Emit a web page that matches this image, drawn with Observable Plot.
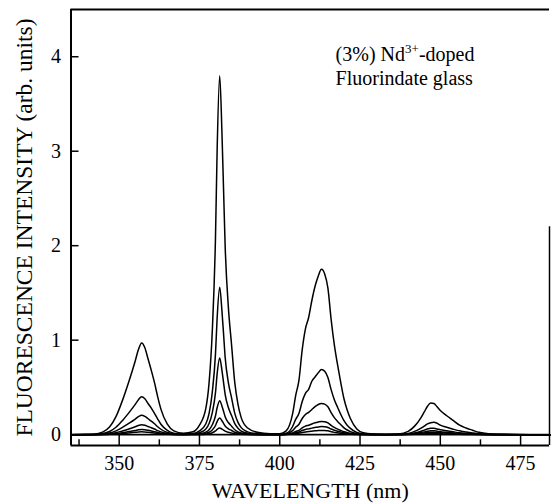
<!DOCTYPE html>
<html>
<head>
<meta charset="utf-8">
<script src="https://cdn.jsdelivr.net/npm/d3@7"></script>
<script src="https://cdn.jsdelivr.net/npm/@observablehq/plot@0.6"></script>
<style>
  html, body { margin: 0; padding: 0; background: #fff; }
</style>
</head>
<body>
<div id="chart"></div>
<script>
// Wavelength grid (nm)
const wavelengths = [335,342,345,347,349,351,353,355,356,357,358,359,360,361,362,363,365,367,370,373,375,377,378,379,380,380.5,381.3,382,382.5,383,384,385,386,387,388,390,393,397,400,402,404,405,406,407,408,409,410,411,412,413,414,415,416,417,418,419,420,421,422,424,426,429,433,437,440,442,444,445,446,447,448,449,450,452,454,456,458,460,462,465,470,478,485];

// Fluorescence intensity series (arb. units), highest to lowest
const seriesA = [0,0.005,0.03,0.08,0.19,0.36,0.56,0.78,0.90,0.97,0.92,0.80,0.68,0.55,0.40,0.27,0.11,0.04,0.015,0.03,0.10,0.28,0.55,1.10,2.10,3.00,3.80,3.20,2.60,2.00,1.35,0.95,0.55,0.32,0.18,0.07,0.025,0.01,0.01,0.04,0.22,0.42,0.58,0.90,1.12,1.24,1.42,1.57,1.68,1.75,1.70,1.55,1.22,0.95,0.74,0.55,0.38,0.26,0.17,0.06,0.02,0.008,0.005,0.008,0.035,0.09,0.18,0.24,0.30,0.335,0.33,0.295,0.255,0.20,0.15,0.10,0.07,0.047,0.025,0.01,0.003,0,0];
const seriesB = [0,0.002,0.012,0.033,0.078,0.148,0.23,0.32,0.37,0.40,0.38,0.33,0.28,0.225,0.165,0.11,0.045,0.016,0.006,0.012,0.04,0.115,0.225,0.45,0.86,1.23,1.56,1.31,1.07,0.82,0.55,0.39,0.225,0.13,0.074,0.029,0.01,0.004,0.004,0.014,0.086,0.164,0.226,0.35,0.437,0.48,0.565,0.61,0.655,0.69,0.67,0.605,0.476,0.37,0.29,0.215,0.148,0.10,0.066,0.023,0.008,0.003,0.002,0.003,0.013,0.034,0.068,0.091,0.114,0.127,0.13,0.12,0.10,0.078,0.058,0.04,0.027,0.018,0.01,0.004,0.001,0,0];
const seriesC = [0,0.001,0.006,0.017,0.04,0.076,0.118,0.164,0.19,0.205,0.193,0.168,0.143,0.115,0.084,0.057,0.023,0.008,0.003,0.006,0.021,0.06,0.117,0.234,0.447,0.64,0.81,0.68,0.554,0.426,0.288,0.202,0.117,0.068,0.038,0.015,0.005,0.002,0.002,0.007,0.042,0.08,0.11,0.171,0.213,0.236,0.266,0.296,0.319,0.33,0.323,0.295,0.232,0.18,0.14,0.105,0.072,0.049,0.032,0.011,0.004,0.002,0.001,0.002,0.007,0.018,0.036,0.048,0.06,0.067,0.068,0.06,0.051,0.04,0.03,0.02,0.014,0.009,0.005,0.002,0.001,0,0];
const seriesD = [0,0.001,0.003,0.009,0.02,0.039,0.06,0.084,0.097,0.105,0.099,0.086,0.073,0.059,0.043,0.029,0.012,0.004,0.002,0.003,0.01,0.027,0.052,0.104,0.2,0.285,0.36,0.304,0.247,0.19,0.128,0.09,0.052,0.03,0.017,0.007,0.002,0.001,0.001,0.003,0.018,0.034,0.046,0.072,0.09,0.1,0.113,0.125,0.134,0.14,0.136,0.124,0.098,0.076,0.059,0.044,0.03,0.021,0.014,0.005,0.002,0.001,0,0.001,0.004,0.011,0.022,0.029,0.036,0.04,0.04,0.036,0.031,0.024,0.018,0.012,0.008,0.006,0.003,0.001,0,0,0];
const seriesE = [0,0,0.002,0.005,0.011,0.02,0.032,0.044,0.051,0.055,0.052,0.046,0.039,0.031,0.023,0.015,0.006,0.002,0.001,0.001,0.005,0.013,0.025,0.05,0.097,0.138,0.175,0.147,0.12,0.092,0.062,0.044,0.025,0.015,0.008,0.003,0.001,0,0,0.002,0.011,0.021,0.028,0.044,0.055,0.061,0.069,0.076,0.082,0.085,0.083,0.076,0.06,0.047,0.036,0.027,0.019,0.013,0.008,0.003,0.001,0,0,0.001,0.003,0.007,0.013,0.018,0.022,0.025,0.025,0.022,0.019,0.015,0.011,0.007,0.005,0.003,0.002,0.001,0,0,0];
const seriesF = [0,0,0.001,0.003,0.006,0.011,0.017,0.024,0.028,0.03,0.028,0.025,0.021,0.017,0.012,0.008,0.003,0.001,0,0.001,0.002,0.005,0.01,0.02,0.039,0.055,0.07,0.059,0.048,0.037,0.025,0.018,0.01,0.006,0.003,0.001,0,0,0,0.001,0.006,0.011,0.015,0.023,0.029,0.032,0.036,0.04,0.043,0.045,0.044,0.04,0.031,0.024,0.019,0.014,0.01,0.007,0.004,0.002,0.001,0,0,0,0.001,0.003,0.006,0.008,0.011,0.012,0.012,0.011,0.009,0.007,0.005,0.003,0.002,0.001,0.001,0,0,0,0];

const seriesNames = ["A","B","C","D","E","F"];
const seriesValues = [seriesA, seriesB, seriesC, seriesD, seriesE, seriesF];

// Axis ticks
const xTicks = [350, 375, 400, 425, 450, 475];
const xMinorTicks = [337.5, 362.5, 387.5, 412.5, 437.5, 462.5];
const yTicks = [0, 1, 2, 3, 4];

// Texts
const xLabel = "WAVELENGTH (nm)";
const yLabel = "FLUORESCENCE INTENSITY (arb. units)";
const noteLine1 = "(3%) Nd3+-doped";
const noteLine2 = "Fluorindate glass";

const xDomain = [335, 484];
const yDomain = [-0.115, 4.5];

const tidy = [];
seriesNames.forEach((s, i) => {
  wavelengths.forEach((w, j) => tidy.push({s, nm: w, v: seriesValues[i][j]}));
});

const chart = Plot.plot({
  width: 551,
  height: 504,
  marginLeft: 70.5,
  marginRight: 2,
  marginTop: 9,
  marginBottom: 59,
  style: {background: "#fff", color: "#000", fontFamily: "\"Liberation Serif\", serif"},
  x: {domain: xDomain},
  y: {domain: yDomain},
  marks: [
    Plot.line(tidy, {x: "nm", y: "v", z: "s", stroke: "#000", strokeWidth: 1.5, curve: "monotone-x"}),
    Plot.ruleY([0], {stroke: "#000", strokeWidth: 1.8}),
    Plot.ruleY([yDomain[1]], {stroke: "#000", strokeWidth: 2}),
    Plot.ruleY([yDomain[0]], {stroke: "#000", strokeWidth: 2}),
    Plot.ruleX([xDomain[0]], {stroke: "#000", strokeWidth: 2}),
    Plot.ruleX([xDomain[1]], {y1: yDomain[0], y2: 2.2, stroke: "#000", strokeWidth: 1.5}),
    Plot.ruleX(xTicks, {y1: yDomain[0], y2: 0, stroke: "#000", strokeWidth: 1.5}),
    Plot.ruleX(xMinorTicks, {y1: yDomain[0], y2: -0.055, stroke: "#000", strokeWidth: 1.5}),
    Plot.ruleY(yTicks, {x1: xDomain[0], x2: xDomain[0] + 2.5, stroke: "#000", strokeWidth: 1.5}),
    Plot.axisX({ticks: xTicks, tickFormat: d => String(d), tickSize: 0, tickPadding: 10, fontSize: 20, label: null}),
    Plot.axisY({ticks: yTicks, tickFormat: d => String(d), tickSize: 0, tickPadding: 10, fontSize: 20, label: null}),
    Plot.text([xLabel], {frameAnchor: "bottom", dy: 45, lineAnchor: "middle", textAnchor: "middle", text: d => d, fontSize: 22, fill: "#000"}),
    Plot.text([yLabel], {frameAnchor: "left", dx: -46.5, rotate: -90, textAnchor: "middle", lineAnchor: "middle", text: d => d, fontSize: 23.5, fill: "#000"}),
    Plot.text([noteLine1], {x: 417.4, y: 3.96, text: d => d, textAnchor: "start", lineAnchor: "bottom", fontSize: 20, fill: "#000"}),
    Plot.text([noteLine2], {x: 417.4, y: 3.70, text: d => d, textAnchor: "start", lineAnchor: "bottom", fontSize: 20, fill: "#000"})
  ]
});

const svg = d3.select(chart);
// Superscript for Nd3+
svg.selectAll("text").filter(function() { return this.textContent === noteLine1; }).each(function() {
  const t = d3.select(this);
  t.text(null);
  t.append("tspan").text("(3%) Nd");
  t.append("tspan").attr("dy", -8).attr("font-size", 13).text("3+");
  t.append("tspan").attr("dy", 8).text("-doped");
});

document.getElementById("chart").appendChild(chart);
</script>
</body>
</html>
